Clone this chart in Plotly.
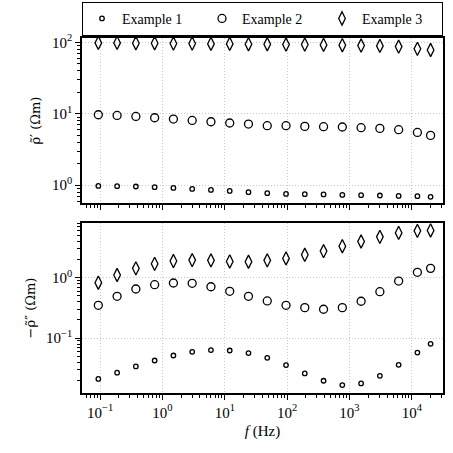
import plotly.graph_objects as go
from plotly.subplots import make_subplots

# ---- data ----
freq = [0.09375, 0.1875, 0.375, 0.75, 1.5, 3, 6, 12, 24, 48, 96, 192, 384,
        768, 1536, 3072, 6144, 12288, 20000]

re_ex1 = [0.978, 0.968, 0.959, 0.938, 0.917, 0.888, 0.860, 0.833, 0.799, 0.773,
          0.756, 0.749, 0.742, 0.732, 0.725, 0.718, 0.709, 0.702, 0.687]
re_ex2 = [9.68, 9.47, 9.17, 8.79, 8.43, 8.06, 7.73, 7.42, 7.18, 6.80, 6.80,
          6.65, 6.59, 6.52, 6.38, 6.24, 5.98, 5.48, 4.98]
re_ex3 = [98, 98, 97, 97, 96, 96, 95, 95, 94, 94, 93, 93, 92, 91, 90, 89, 87, 81, 78]

im_ex1 = [0.0211, 0.0268, 0.0340, 0.0427, 0.0516, 0.0595, 0.0635, 0.0625, 0.0567,
          0.0473, 0.0358, 0.0261, 0.0197, 0.0167, 0.0178, 0.0238, 0.0362, 0.0578, 0.0806]
im_ex2 = [0.350, 0.493, 0.651, 0.767, 0.818, 0.808, 0.710, 0.596, 0.493, 0.413,
          0.350, 0.320, 0.301, 0.320, 0.408, 0.588, 0.882, 1.23, 1.43]
im_ex3 = [0.827, 1.11, 1.43, 1.70, 1.89, 1.96, 1.94, 1.86, 1.84, 1.94, 2.09,
          2.40, 2.76, 3.33, 3.98, 4.75, 5.53, 5.97, 6.06]

names = ["Example 1", "Example 2", "Example 3"]
x_tickvals = [0.1, 1, 10, 100, 1000, 10000]
x_ticktext = ["10<sup>−1</sup>", "10<sup>0</sup>", "10<sup>1</sup>",
              "10<sup>2</sup>", "10<sup>3</sup>", "10<sup>4</sup>"]
y1_tickvals = [1, 10, 100]
y1_ticktext = ["10<sup>0</sup>", "10<sup>1</sup>", "10<sup>2</sup>"]
y2_tickvals = [0.1, 1]
y2_ticktext = ["10<sup>−1</sup>", "10<sup>0</sup>"]

FONT = "Liberation Serif"
TFONT = "DejaVu Serif"
symbols = ["circle-open", "circle-open", "diamond-tall-open"]
sizes = [4.5, 8, 9.5]

fig = make_subplots(rows=2, cols=1, shared_xaxes=False, vertical_spacing=0.05)

for i, (re, im) in enumerate([(re_ex1, im_ex1), (re_ex2, im_ex2), (re_ex3, im_ex3)]):
    mk = dict(symbol=symbols[i], size=sizes[i], color="black",
              line=dict(color="black", width=1.3))
    fig.add_trace(go.Scatter(x=freq, y=re, mode="markers", marker=mk,
                             name=names[i], legendgroup=names[i]), row=1, col=1)
    fig.add_trace(go.Scatter(x=freq, y=im, mode="markers", marker=mk,
                             name=names[i], legendgroup=names[i], showlegend=False),
                  row=2, col=1)

axis_common = dict(
    type="log", showline=True, linecolor="black", linewidth=1.5, mirror=True,
    ticks="outside", ticklen=5, tickwidth=1, tickcolor="black",
    showgrid=True, gridcolor="#c8c8c8", griddash="1px,2px", gridwidth=1,
    zeroline=False, tickmode="array",
    minor=dict(ticks="outside", ticklen=3, tickwidth=1, tickcolor="black",
               dtick="D1", showgrid=False),
    tickfont=dict(family=FONT, size=15, color="black"),
)

fig.update_xaxes(**axis_common, range=[-1.29, 4.5],
                 tickvals=x_tickvals, ticktext=x_ticktext)
fig.update_xaxes(showticklabels=False, row=1, col=1)
fig.update_xaxes(title=dict(text="<i>f</i> (Hz)", font=dict(family=FONT, size=15, color="black"),
                            standoff=6), row=2, col=1)
fig.update_yaxes(**axis_common)
fig.update_yaxes(range=[-0.25, 2.06], domain=[0.535, 1.0],
                 tickvals=y1_tickvals, ticktext=y1_ticktext,
                 title=dict(text="ρ̃′ (Ωm)", font=dict(family=TFONT, size=13, color="black"),
                            standoff=8), row=1, col=1)
fig.update_yaxes(range=[-1.908, 0.907], domain=[0.0, 0.479],
                 tickvals=y2_tickvals, ticktext=y2_ticktext,
                 title=dict(text="−ρ̃″ (Ωm)", font=dict(family=TFONT, size=13, color="black"),
                            standoff=8), row=2, col=1)

fig.update_layout(
    width=453, height=453,
    margin=dict(l=82, r=10, t=38, b=60, autoexpand=False),
    plot_bgcolor="white", paper_bgcolor="white",
    font=dict(family=FONT, size=15, color="black"),
    legend=dict(orientation="h", x=0, xanchor="left", y=1.006, yanchor="bottom",
                bordercolor="black", borderwidth=1, bgcolor="white",
                entrywidth=75, itemwidth=30, tracegroupgap=0,
                font=dict(family=FONT, size=14, color="black")),
)

fig.write_html("out.html")
